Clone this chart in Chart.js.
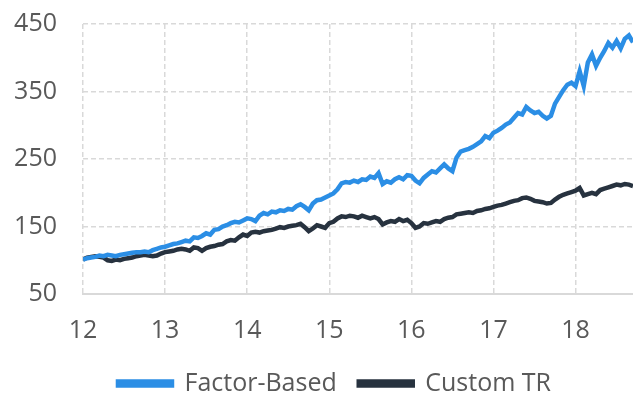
<!DOCTYPE html>
<html>
<head>
<meta charset="utf-8">
<script src="https://cdn.jsdelivr.net/npm/chart.js@4"></script>
<style>
  html, body { margin: 0; padding: 0; background: #ffffff; }
  #wrap { width: 633px; height: 401px; }
</style>
</head>
<body>
<div id="wrap"><canvas id="chart"></canvas></div>
<script>
// series sampled every 0.05 year, starting at year 12
const startYear = 12;
const stepYear = 0.05;

const factorBased = [
  101, 103, 104, 105, 107, 106, 108, 107, 106, 108,
  109, 110, 111, 112, 112, 113, 112, 115, 117, 119,
  120, 122, 124, 125, 127, 129, 128, 134, 133, 136,
  140, 138, 145, 146, 150, 152, 155, 157, 156, 159,
  162, 161, 158, 166, 170, 168, 172, 171, 174, 173,
  176, 175, 180, 183, 179, 174, 184, 189, 190, 193,
  196, 199, 205, 214, 216, 215, 218, 216, 220, 219,
  224, 222, 229, 213, 217, 215, 220, 223, 220, 226,
  225, 218, 214, 222, 227, 232, 230, 236, 242, 236,
  232, 252, 261, 263, 265, 268, 272, 276, 284, 281,
  289, 292, 296, 301, 304, 311, 318, 316, 327, 322,
  318, 320, 314, 310, 314, 332, 342, 352, 360, 363,
  358, 380, 358, 393, 405, 388, 400, 410, 422, 415,
  425, 414, 428, 433, 423
];

const customTR = [
  101, 104, 105, 106, 105, 104, 100, 99, 101, 100,
  102, 103, 104, 106, 107, 108, 107, 106, 107, 110,
  112, 113, 114, 116, 117, 116, 114, 119, 118, 114,
  118, 120, 121, 123, 124, 128, 130, 129, 134, 138,
  136, 141, 142, 141, 143, 144, 145, 147, 149, 148,
  150, 151, 152, 154, 149, 143, 147, 152, 150, 148,
  155, 157, 162, 165, 164, 166, 165, 163, 166, 164,
  162, 164, 161, 153, 156, 158, 157, 161, 158, 160,
  155, 148, 150, 155, 154, 156, 158, 157, 161, 163,
  164, 168, 169, 170, 171, 170, 173, 174, 176, 177,
  179, 181, 182, 184, 186, 188, 189, 192, 193, 191,
  188, 187, 186, 184, 185, 190, 194, 197, 199, 201,
  203, 207, 196, 198, 200, 198, 204, 206, 208, 210,
  212, 211, 213, 212, 210
];

const seriesNames = ['Factor-Based', 'Custom TR'];
const seriesColors = ['#2b8ee5', '#27323f'];

const xMin = 12, xMax = 18.7;
const yMin = 50, yMax = 450, yStep = 100;

const textColor = '#595959';
const gridColor = '#d9d9d9';
const fontFamily = '"Open Sans", sans-serif';

const toPoints = arr => arr.map((v, i) => ({ x: startYear + i * stepYear, y: v }));

// nudge the legend a little to the right, like the original
const legendShift = {
  id: 'legendShift',
  afterLayout(chart) {
    chart.legend.left += 12;
    chart.legend.right += 12;
  }
};

const ctx = document.getElementById('chart').getContext('2d');
new Chart(ctx, {
  type: 'line',
  data: {
    datasets: [factorBased, customTR].map((arr, k) => ({
      label: seriesNames[k],
      data: toPoints(arr),
      borderColor: seriesColors[k],
      backgroundColor: seriesColors[k],
      borderWidth: 4.5,
      pointRadius: 0,
      tension: 0
    }))
  },
  options: {
    responsive: true,
    maintainAspectRatio: false,
    animation: false,
    layout: { autoPadding: false, padding: { left: 12, right: 0, top: 24, bottom: -5 } },
    scales: {
      x: {
        type: 'linear',
        min: xMin,
        max: xMax,
        afterFit: axis => { axis.height = 55; },
        ticks: {
          stepSize: 1, includeBounds: false,
          color: textColor, font: { family: fontFamily, size: 25 }, padding: 22, maxRotation: 0
        },
        grid: { color: gridColor, lineWidth: 1.5, drawTicks: false, tickLength: 0 },
        border: { display: true, color: gridColor, width: 2, dash: [5, 3] }
      },
      y: {
        min: yMin,
        max: yMax,
        afterFit: axis => {
          axis.width = 71;
          axis.paddingTop = 0;
          axis.paddingBottom = 0;
        },
        ticks: { stepSize: yStep, color: textColor, font: { family: fontFamily, size: 25 }, padding: 26 },
        grid: { color: gridColor, lineWidth: 1.5, drawTicks: false, tickLength: 0 },
        border: { display: false, dash: [5, 3] }
      }
    },
    plugins: {
      legend: {
        position: 'bottom',
        labels: {
          color: textColor,
          font: { family: fontFamily, size: 25 },
          boxWidth: 54,
          boxHeight: 4,
          padding: 22
        }
      },
      tooltip: { enabled: false }
    }
  },
  plugins: [legendShift]
});
</script>
</body>
</html>
